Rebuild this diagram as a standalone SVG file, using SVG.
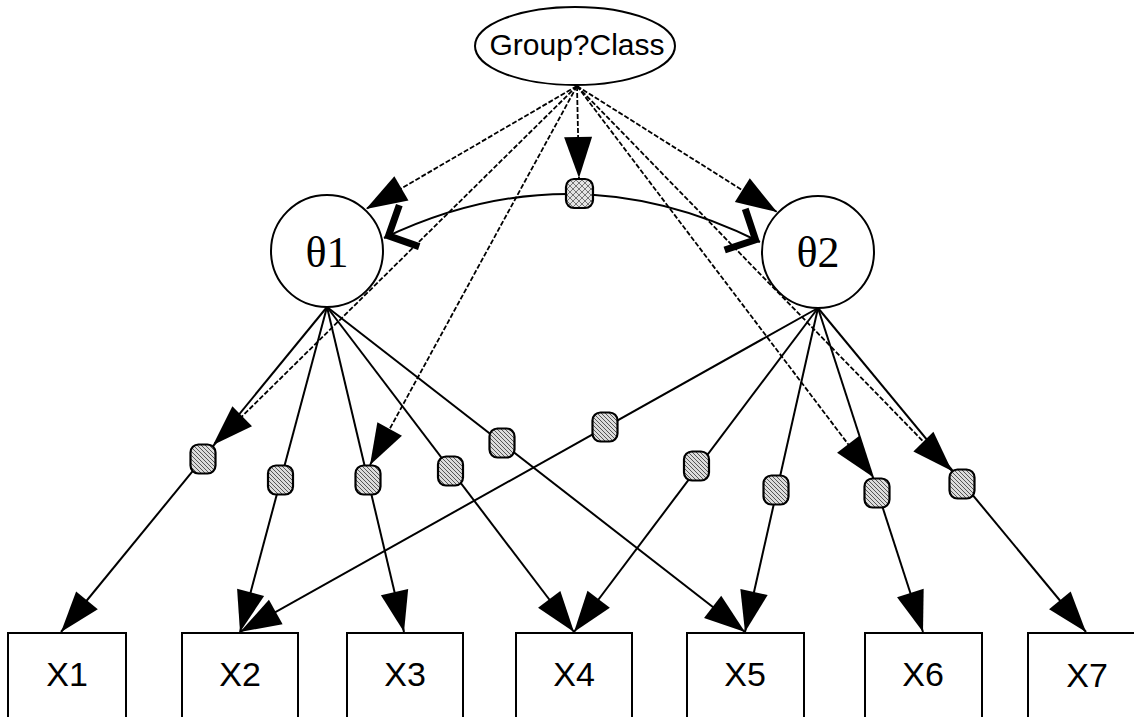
<svg xmlns="http://www.w3.org/2000/svg" width="1134" height="717" viewBox="0 0 1134 717">
<style>
.dash{fill:none;stroke:#000;stroke-width:1.8;stroke-dasharray:5,2}
.sol{fill:none;stroke:#000;stroke-width:2}
.box{fill:#fff;stroke:#000;stroke-width:2}
.lat{fill:#fff;stroke:#000;stroke-width:2}
.node{fill:url(#hatch);stroke:#000;stroke-width:2.2}
.xt{font-family:"Liberation Sans",Arial,sans-serif;font-size:34px;fill:#000;text-anchor:middle}
.th{font-family:"Liberation Serif","Times New Roman",serif;font-size:44px;fill:#000;text-anchor:middle}
</style>
<defs>
<pattern id="hatch" patternUnits="userSpaceOnUse" width="4" height="4">
<rect width="4" height="4" fill="#dcdcdc"/>
<path d="M-1,-1 L5,5 M-1,3 L1,5 M3,-1 L5,1" stroke="#333" stroke-width="0.8"/>
</pattern>
<pattern id="cross" patternUnits="userSpaceOnUse" width="6" height="6">
<rect width="6" height="6" fill="#e4e4e4"/>
<path d="M-1,-1 L7,7 M-1,5 L1,7 M5,-1 L7,1 M-1,7 L7,-1 M-1,1 L1,-1 M5,7 L7,5" stroke="#444" stroke-width="0.7"/>
</pattern>
<marker id="arr" markerUnits="userSpaceOnUse" viewBox="-44 -16 46 32" markerWidth="46" markerHeight="32" refX="0" refY="0" orient="auto">
<path d="M0,0 L-41,-14 L-41,14 Z" fill="#000"/>
</marker>
<marker id="chev" markerUnits="userSpaceOnUse" viewBox="-34 -30 44 60" markerWidth="44" markerHeight="60" refX="0" refY="0" orient="auto-start-reverse">
<path d="M-28,-23 L-5,0 L-28,23" fill="none" stroke="#000" stroke-width="7" stroke-linejoin="miter" stroke-miterlimit="10"/>
</marker>
</defs>
<g id="connectors">
<path class="dash" d="M577,86 L366,209" marker-end="url(#arr)"/>
<path class="dash" d="M577,86 L777,212" marker-end="url(#arr)"/>
<path class="dash" d="M577,86 L579,178" marker-end="url(#arr)"/>
<path class="dash" d="M577,86 L213,445" marker-end="url(#arr)"/>
<path class="dash" d="M577,86 L370,465" marker-end="url(#arr)"/>
<path class="dash" d="M577,86 L873,477" marker-end="url(#arr)"/>
<path class="dash" d="M577,86 L952,471" marker-end="url(#arr)"/>
<path class="sol" d="M384,238 Q572,148 760,242" marker-start="url(#chev)" marker-end="url(#chev)"/>
<path class="sol" d="M327,307 L61,632" marker-end="url(#arr)"/>
<path class="sol" d="M327,307 L240,632" marker-end="url(#arr)"/>
<path class="sol" d="M327,307 L404,632" marker-end="url(#arr)"/>
<path class="sol" d="M327,307 L574,632" marker-end="url(#arr)"/>
<path class="sol" d="M327,307 L745,632" marker-end="url(#arr)"/>
<path class="sol" d="M818,308 L240,632" marker-end="url(#arr)"/>
<path class="sol" d="M818,308 L574,632" marker-end="url(#arr)"/>
<path class="sol" d="M818,308 L745,632" marker-end="url(#arr)"/>
<path class="sol" d="M818,308 L923,632" marker-end="url(#arr)"/>
<path class="sol" d="M818,308 L1086,632" marker-end="url(#arr)"/>
</g>
<g id="groupclass">
<ellipse class="lat" cx="575" cy="46" rx="100" ry="39"/>
<text x="577" y="55" font-family="Liberation Sans, Arial, sans-serif" font-size="30" text-anchor="middle">Group?Class</text>
</g>
<g id="theta1">
<circle class="lat" cx="327" cy="251" r="56"/>
<text class="th" x="327" y="267">θ1</text>
</g>
<g id="theta2">
<circle class="lat" cx="818" cy="252" r="56"/>
<text class="th" x="818" y="267">θ2</text>
</g>
<g id="cov"><rect x="566" y="179" width="27" height="29" rx="8" fill="url(#cross)" stroke="#000" stroke-width="2.2"/></g>
<g id="n1"><rect class="node" x="190.5" y="444.5" width="25" height="29" rx="8"/></g>
<g id="n2"><rect class="node" x="268" y="465.5" width="25" height="29" rx="8"/></g>
<g id="n3"><rect class="node" x="355.5" y="465.5" width="25" height="29" rx="8"/></g>
<g id="n4"><rect class="node" x="438" y="456.5" width="25" height="29" rx="8"/></g>
<g id="n5"><rect class="node" x="489.5" y="428.5" width="25" height="29" rx="8"/></g>
<g id="n6"><rect class="node" x="592.5" y="412.5" width="25" height="29" rx="8"/></g>
<g id="n7"><rect class="node" x="684" y="451.5" width="25" height="29" rx="8"/></g>
<g id="n8"><rect class="node" x="763.5" y="475.5" width="25" height="29" rx="8"/></g>
<g id="n9"><rect class="node" x="864.5" y="478.5" width="25" height="29" rx="8"/></g>
<g id="n10"><rect class="node" x="949.5" y="469.5" width="25" height="29" rx="8"/></g>
<g id="X1"><rect class="box" x="8" y="633" width="118" height="100"/><text class="xt" x="67" y="686">X1</text></g>
<g id="X2"><rect class="box" x="182" y="633" width="116" height="100"/><text class="xt" x="240" y="686">X2</text></g>
<g id="X3"><rect class="box" x="347" y="633" width="116" height="100"/><text class="xt" x="405" y="686">X3</text></g>
<g id="X4"><rect class="box" x="516" y="633" width="116" height="100"/><text class="xt" x="574" y="686">X4</text></g>
<g id="X5"><rect class="box" x="687" y="633" width="117" height="100"/><text class="xt" x="745" y="686">X5</text></g>
<g id="X6"><rect class="box" x="865" y="633" width="117" height="100"/><text class="xt" x="923" y="686">X6</text></g>
<g id="X7"><rect class="box" x="1028" y="633" width="117" height="100"/><text class="xt" x="1087" y="687">X7</text></g>
</svg>
